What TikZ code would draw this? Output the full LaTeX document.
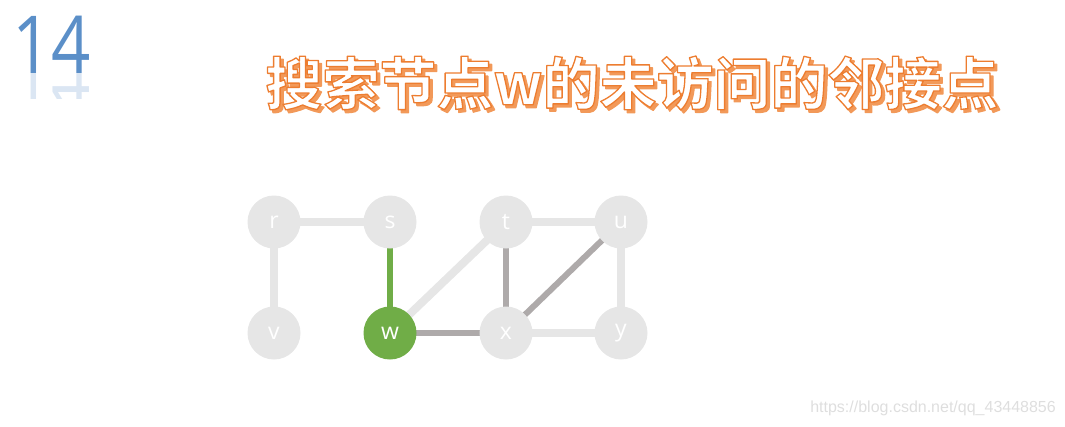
\documentclass[tikz,border=0pt]{standalone}
\usepackage{fontspec}
\setmainfont{Open Sans}
\newfontfamily\cjk{Noto Sans CJK SC}[BoldFont={Noto Sans CJK SC Bold}]
\newfontfamily\wmfont{Liberation Sans}
\definecolor{lightg}{HTML}{E6E6E6}
\definecolor{darkg}{HTML}{AEAAAA}
\definecolor{grn}{HTML}{70AD47}
\definecolor{org}{HTML}{ED7D31}
\definecolor{numblue}{HTML}{5B8FC8}
\newcommand{\outlinetext}[1]{\special{pdf:literal direct 0.93 0.49 0.19 RG 1.3 w 1 j 2 Tr}#1\special{pdf:literal direct 0 Tr}}
\newcommand{\solidtext}[1]{\special{pdf:literal direct 0.95 0.6 0.35 RG 0.95 0.6 0.35 rg 1.3 w 1 j 2 Tr}#1\special{pdf:literal direct 0 Tr}}
\begin{document}
\begin{tikzpicture}[x=1pt,y=-1pt,
  vert/.style={circle,fill=lightg,minimum size=53pt,inner sep=0pt,text=white,font=\fontsize{23}{23}\selectfont},
  cur/.style={vert,fill=grn},
  ledge/.style={draw=lightg,line width=8pt},
  dedge/.style={draw=darkg,line width=6pt},
  gedge/.style={draw=grn,line width=6pt},
  ttl/.style={font=\cjk\bfseries\fontsize{57}{57}\selectfont,inner sep=0pt}]
\useasboundingbox (0,0) rectangle (1065,426);
% number 14 with reflection
\begin{scope}
\clip (0,73) rectangle (120,98);
\node[font=\fontsize{80}{80}\selectfont,text=numblue!22,yscale=-1,xscale=0.86,inner sep=0pt,anchor=base west] (numr) at (12,73) {14};
\end{scope}
\node[font=\fontsize{80}{80}\selectfont,text=numblue,xscale=0.86,inner sep=0pt,anchor=base west] (num) at (12,73) {14};
% title
\node[ttl,text=org!70] (shadow) at (635,86) {\solidtext{搜索节点w的未访问的邻接点}};
\node[ttl,text=white] (title) at (632,83) {\outlinetext{搜索节点w的未访问的邻接点}};
% graph
\coordinate (pr) at (274,222);
\coordinate (ps) at (390,222);
\coordinate (pt) at (506,222);
\coordinate (pu) at (621,222);
\coordinate (pv) at (274,333);
\coordinate (pw) at (390,333);
\coordinate (px) at (506,333);
\coordinate (py) at (621,333);
\draw[ledge] (pr) -- (ps);
\draw[ledge] (pr) -- (pv);
\draw[ledge] (pt) -- (pu);
\draw[ledge] (pu) -- (py);
\draw[ledge] (pw) -- (pt);
\draw[ledge] (px) -- (py);
\draw[gedge] (ps) -- (pw);
\draw[dedge] (pw) -- (px);
\draw[dedge] (pt) -- (px);
\draw[dedge] (px) -- (pu);
\node[vert] (r) at (pr) {r};
\node[vert] (s) at (ps) {s};
\node[vert] (t) at (pt) {t};
\node[vert] (u) at (pu) {u};
\node[vert] (v) at (pv) {v};
\node[cur] (w) at (pw) {w};
\node[vert] (x) at (px) {x};
\node[vert] (y) at (py) {y};
% watermark
\node[font=\wmfont\fontsize{16}{16}\selectfont,text=black!13,anchor=east,inner sep=0pt] (wm) at (1056,408) {https://blog.csdn.net/qq\_43448856};
\end{tikzpicture}
\end{document}
